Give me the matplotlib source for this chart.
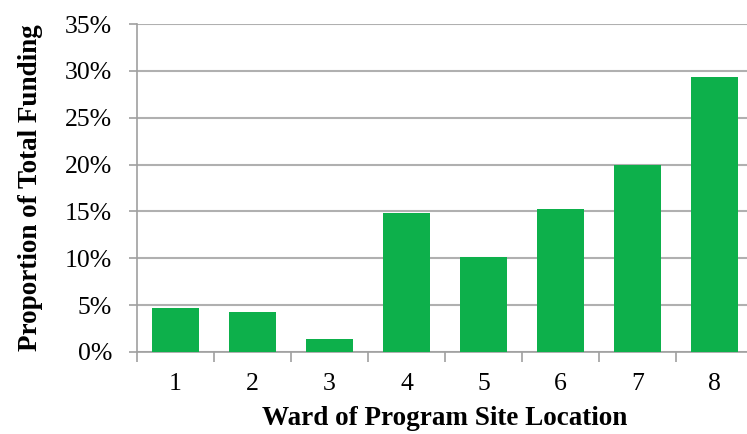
import matplotlib.pyplot as plt
import numpy as np

plt.rcParams['font.family'] = ['Liberation Serif', 'DejaVu Serif']

wards = ['1', '2', '3', '4', '5', '6', '7', '8']
share = [4.7, 4.3, 1.4, 14.85, 10.15, 15.25, 19.95, 29.3]  # percent of total funding

fig = plt.figure(figsize=(7.47, 4.34), dpi=100)
ax = fig.add_axes([137 / 747, 82 / 434, 616 / 747, 328 / 434])

x = np.arange(len(wards))
ax.bar(x, share, width=0.62, color='#0db04b', zorder=3)

ax.set_xlim(-0.5, len(wards) - 0.5)
ax.set_ylim(0, 35)
ax.set_yticks(np.arange(0, 36, 5))
ax.set_yticklabels([f'{v}%' for v in range(0, 36, 5)])
ax.set_xticks(x)
ax.set_xticklabels(wards)
ax.set_xticks(np.arange(-0.5, len(wards), 1), minor=True)

ax.yaxis.grid(True, color='#b0b0b0', linewidth=1.5, zorder=0)
for s in ['top', 'right']:
    ax.spines[s].set_visible(False)
for s in ['left', 'bottom']:
    ax.spines[s].set_color('#a0a0a0')
    ax.spines[s].set_linewidth(1.2)

ax.tick_params(axis='y', length=6, color='#a0a0a0', width=1.2, labelsize=18.5, pad=12)
ax.tick_params(axis='x', which='major', length=0, labelsize=18.5, pad=15)
ax.tick_params(axis='x', which='minor', length=7, color='#a0a0a0', width=1.2)

# reference crops the bottom of this label; keep it just inside the canvas
ax.set_xlabel('Ward of Program Site Location', fontsize=19.5, fontweight='bold', labelpad=8)
ax.set_ylabel('Proportion of Total Funding', fontsize=19.5, fontweight='bold', labelpad=16)

fig.savefig('out.png', dpi=100)
